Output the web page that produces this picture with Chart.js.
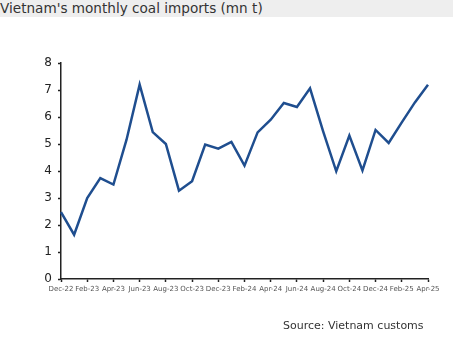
<!DOCTYPE html>
<html>
<head>
<meta charset="utf-8">
<script src="https://cdn.jsdelivr.net/npm/chart.js@4"></script>
<style>
  html, body { margin: 0; padding: 0; background: #fff; }
  #wrap { position: relative; width: 453px; height: 349px; overflow: hidden; }
  #title {
    position: absolute; left: 0; top: 0; width: 453px; height: 17px;
    background: #eeeeee; color: #333;
    font: 13.6px "DejaVu Sans", sans-serif; line-height: 17px; white-space: nowrap;
  }
  #source {
    position: absolute; left: 283px; top: 319px;
    font: 11px "DejaVu Sans", sans-serif; color: #333; white-space: nowrap;
  }
  canvas { position: absolute; left: 0; top: 0; }
</style>
</head>
<body>
<div id="wrap">
  <div id="title">Vietnam's monthly coal imports (mn t)</div>
  <canvas id="coalChart" width="453" height="349"></canvas>
  <div id="source">Source: Vietnam customs</div>
</div>
<script>
// monthly imports, Dec-22 .. Apr-25
const months = [
  'Dec-22', 'Jan-23', 'Feb-23', 'Mar-23', 'Apr-23', 'May-23', 'Jun-23', 'Jul-23',
  'Aug-23', 'Sep-23', 'Oct-23', 'Nov-23', 'Dec-23', 'Jan-24', 'Feb-24', 'Mar-24',
  'Apr-24', 'May-24', 'Jun-24', 'Jul-24', 'Aug-24', 'Sep-24', 'Oct-24', 'Nov-24',
  'Dec-24', 'Jan-25', 'Feb-25', 'Mar-25', 'Apr-25'
];
const imports = [
  2.48, 1.64, 3.0, 3.74, 3.5, 5.16, 7.2, 5.44,
  5.0, 3.27, 3.62, 4.98, 4.83, 5.08, 4.2, 5.43,
  5.9, 6.52, 6.37, 7.06, 5.47, 3.99, 5.31, 4.02,
  5.52, 5.04, 5.8, 6.54, 7.19
];
const yTicks = [0, 1, 2, 3, 4, 5, 6, 7, 8];

const lineColor = '#1f4e8f';
const axisColor = '#222';

new Chart(document.getElementById('coalChart').getContext('2d'), {
    type: 'line',
    data: {
        labels: months,
        datasets: [{
            data: imports,
            borderColor: lineColor,
            borderWidth: 2.5,
            pointRadius: 0,
            tension: 0,
            fill: false
        }]
    },
    options: {
        responsive: false,
        animation: false,
        layout: { padding: { left: 0, top: 63, right: 25, bottom: 50 } },
        plugins: { legend: { display: false }, tooltip: { enabled: false }, title: { display: false } },
        scales: {
            x: {
                offset: false,
                afterFit: s => { s.height = 20; },
                border: { color: axisColor, width: 1.5 },
                grid: { drawOnChartArea: false, drawTicks: true, tickLength: 3, tickColor: axisColor, tickWidth: 1.5 },
                ticks: {
                    autoSkip: false,
                    maxRotation: 0,
                    padding: 3,
                    color: '#555',
                    font: { family: 'DejaVu Sans', size: 7 },
                    // label every second month
                    callback: function(value, index) {
                        return index % 2 === 0 ? months[index] : null;
                    }
                }
            },
            y: {
                min: 0,
                max: 8,
                afterFit: s => { s.width = 61; },
                afterBuildTicks: s => { s.ticks = yTicks.map(v => ({ value: v })); },
                border: { color: axisColor, width: 1.5 },
                grid: { drawOnChartArea: false, drawTicks: true, tickLength: 3, tickColor: axisColor, tickWidth: 1.5 },
                ticks: {
                    padding: 6,
                    color: '#222',
                    font: { family: 'DejaVu Sans', size: 12 }
                }
            }
        }
    }
});
</script>
</body>
</html>
